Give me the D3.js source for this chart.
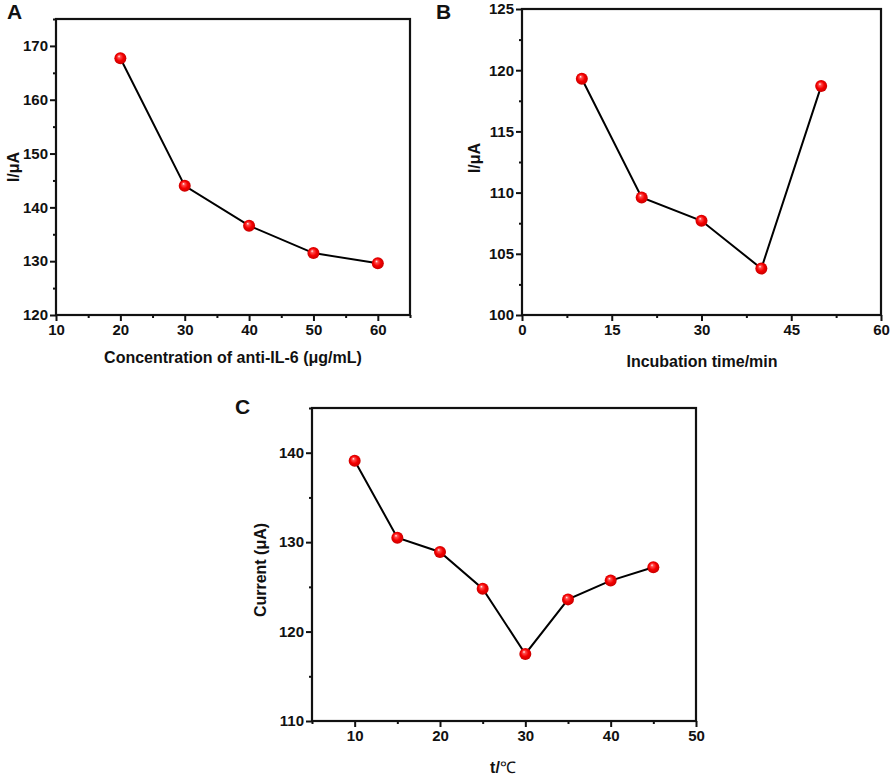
<!DOCTYPE html>
<html>
<head>
<meta charset="utf-8">
<script src="https://cdn.jsdelivr.net/npm/d3@7"></script>
<style>
  body { margin: 0; background: #fff; }
  svg { display: block; }
</style>
</head>
<body>
<div id="wrapper"></div>
<script>
// data
const concA = [20, 30, 40, 50, 60];
const currentA = [167.7, 144.0, 136.6, 131.5, 129.6];

const timeB = [10, 20, 30, 40, 50];
const currentB = [119.3, 109.6, 107.7, 103.8, 118.7];

const tempC = [10, 15, 20, 25, 30, 35, 40, 45];
const currentC = [139.1, 130.5, 128.9, 124.8, 117.5, 123.6, 125.7, 127.2];

const ticksAx = [10, 20, 30, 40, 50, 60];
const ticksAy = [120, 130, 140, 150, 160, 170];
const ticksBx = [0, 15, 30, 45, 60];
const ticksBy = [100, 105, 110, 115, 120, 125];
const ticksCx = [10, 20, 30, 40, 50];
const ticksCy = [110, 120, 130, 140];

const FONT = "'Liberation Sans', Arial, sans-serif";

const panels = [
  { tag: "A", xs: concA, ys: currentA, xDom: [10, 65], yDom: [120, 175],
    xt: ticksAx, yt: ticksAy, xMinor: 5, yMinor: 5,
    box: [56, 19, 410, 315], xLabel: "Concentration of anti-IL-6 (μg/mL)", yLabel: "I/μA",
    tagPos: [7, 19], xLabelX: 233, xLabelY: 363, yLabelX: 19, yLabelY: 167 },
  { tag: "B", xs: timeB, ys: currentB, xDom: [0, 60], yDom: [100, 125],
    xt: ticksBx, yt: ticksBy, xMinor: 7.5, yMinor: 2.5,
    box: [522, 9, 881, 315], xLabel: "Incubation time/min", yLabel: "I/μA",
    tagPos: [436, 19], xLabelX: 702, xLabelY: 367, yLabelX: 480, yLabelY: 158 },
  { tag: "C", xs: tempC, ys: currentC, xDom: [5, 50], yDom: [110, 145],
    xt: ticksCx, yt: ticksCy, xMinor: 5, yMinor: 5,
    box: [312, 408, 696, 721], xLabel: "t/", yLabel: "Current (μA)",
    tagPos: [235, 414], xLabelX: 503, xLabelY: 773, yLabelX: 266, yLabelY: 570 }
];

const width = 892;
const height = 777;

const svg = d3.select("#wrapper")
  .append("svg")
  .attr("width", width)
  .attr("height", height);

// glossy red ball marker
const grad = svg.append("defs").append("radialGradient")
  .attr("id", "ball")
  .attr("cx", "50%").attr("cy", "50%").attr("r", "55%")
  .attr("fx", "38%").attr("fy", "32%");
grad.append("stop").attr("offset", "0%").attr("stop-color", "#ffffff");
grad.append("stop").attr("offset", "20%").attr("stop-color", "#ff5050");
grad.append("stop").attr("offset", "55%").attr("stop-color", "#f50000");
grad.append("stop").attr("offset", "100%").attr("stop-color", "#c00000");

panels.forEach(p => {
  const [x0, y0, x1, y1] = p.box;
  const x = d3.scaleLinear().domain(p.xDom).range([x0, x1]);
  const y = d3.scaleLinear().domain(p.yDom).range([y1, y0]);
  const g = svg.append("g");

  // minor ticks
  const xm = d3.range(p.xDom[0], p.xDom[1] + 0.001, p.xMinor).filter(v => !p.xt.includes(v));
  const ym = d3.range(p.yDom[0], p.yDom[1] + 0.001, p.yMinor).filter(v => !p.yt.includes(v));
  g.append("g")
    .attr("transform", `translate(0,${y1})`)
    .call(d3.axisBottom(x).tickValues(xm).tickSize(3).tickFormat(""))
    .call(a => a.select(".domain").remove())
    .selectAll("line").attr("stroke", "#111").attr("stroke-width", 2);
  g.append("g")
    .attr("transform", `translate(${x0},0)`)
    .call(d3.axisLeft(y).tickValues(ym).tickSize(3).tickFormat(""))
    .call(a => a.select(".domain").remove())
    .selectAll("line").attr("stroke", "#111").attr("stroke-width", 2);

  // major axes
  const xa = g.append("g")
    .attr("transform", `translate(0,${y1})`)
    .call(d3.axisBottom(x).tickValues(p.xt).tickSize(6).tickSizeOuter(0).tickPadding(3));
  const ya = g.append("g")
    .attr("transform", `translate(${x0},0)`)
    .call(d3.axisLeft(y).tickValues(p.yt).tickSize(6).tickSizeOuter(0).tickPadding(2));
  [xa, ya].forEach(a => {
    a.select(".domain").remove();
    a.selectAll("line").attr("stroke", "#111").attr("stroke-width", 2);
    a.selectAll("text")
      .attr("font-family", FONT)
      .attr("font-weight", "bold")
      .attr("font-size", 15)
      .attr("fill", "#111");
  });

  // frame
  g.append("rect")
    .attr("x", x0).attr("y", y0)
    .attr("width", x1 - x0).attr("height", y1 - y0)
    .attr("fill", "none").attr("stroke", "#111").attr("stroke-width", 2.2);

  // series line
  const pts = p.xs.map((v, i) => [v, p.ys[i]]);
  g.append("path")
    .datum(pts)
    .attr("fill", "none")
    .attr("stroke", "#000")
    .attr("stroke-width", 2)
    .attr("d", d3.line().x(d => x(d[0])).y(d => y(d[1])));

  g.selectAll("circle.pt")
    .data(pts)
    .join("circle")
      .attr("class", "pt")
      .attr("cx", d => x(d[0]))
      .attr("cy", d => y(d[1]))
      .attr("r", 6)
      .attr("fill", "url(#ball)");

  // labels
  g.append("text")
    .attr("x", p.tagPos[0]).attr("y", p.tagPos[1])
    .attr("font-family", FONT).attr("font-weight", "bold")
    .attr("font-size", 21).attr("fill", "#111")
    .text(p.tag);

  const xl = g.append("text")
    .attr("x", p.xLabelX)
    .attr("y", p.xLabelY)
    .attr("text-anchor", "middle")
    .attr("font-family", FONT).attr("font-weight", "bold")
    .attr("font-size", 16).attr("fill", "#111")
    .text(p.xLabel);
  if (p.tag === "C") {
    xl.append("tspan").attr("font-weight", "normal").text("℃");
  }

  g.append("text")
    .attr("transform", `translate(${p.yLabelX},${p.yLabelY}) rotate(-90)`)
    .attr("text-anchor", "middle")
    .attr("font-family", FONT).attr("font-weight", "bold")
    .attr("font-size", 16).attr("fill", "#111")
    .text(p.yLabel);
});
</script>
</body>
</html>
